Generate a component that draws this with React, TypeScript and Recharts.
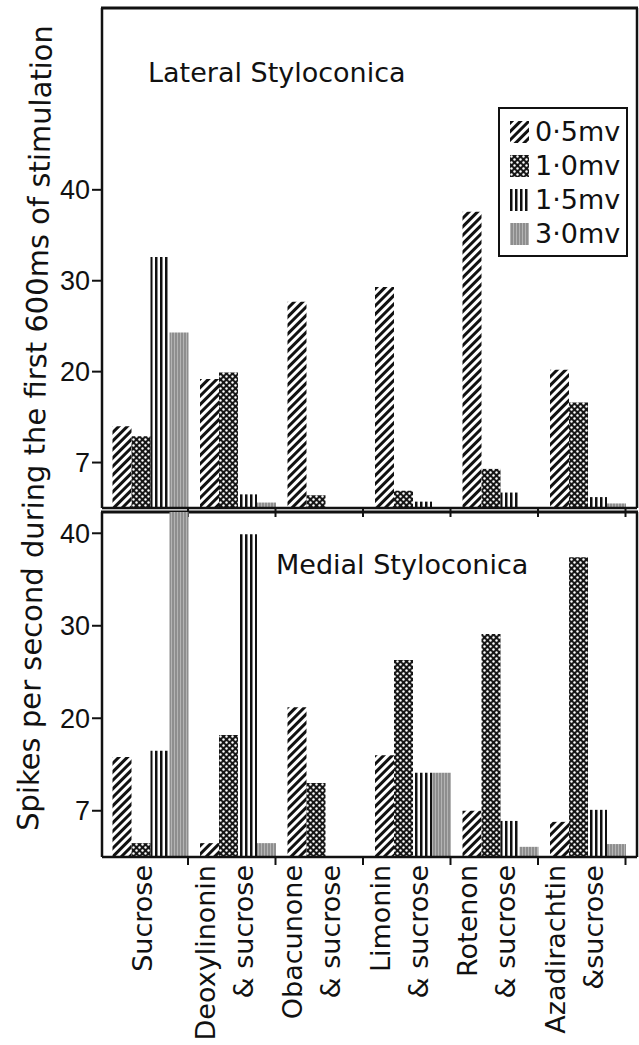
import React from 'react';
import { BarChart, Bar, XAxis, YAxis, Legend, Customized } from 'recharts';

// ---------- data ----------
const CATEGORIES = [
  'Sucrose',
  'Deoxylinonin & sucrose',
  'Obacunone & sucrose',
  'Limonin & sucrose',
  'Rotenon & sucrose',
  'Azadirachtin &sucrose',
];
const LABEL_LINE1 = ['Sucrose', 'Deoxylinonin', 'Obacunone', 'Limonin', 'Rotenon', 'Azadirachtin'];
const LABEL_LINE2 = ['', '& sucrose', '& sucrose', '& sucrose', '& sucrose', '&sucrose'];
const SERIES = ['0·5mv', '1·0mv', '1·5mv', '3·0mv'];

const LATERAL_05 = [14.0, 19.2, 27.7, 29.3, 37.6, 20.2];
const LATERAL_10 = [12.9, 19.9, 6.4, 6.9, 9.3, 16.6];
const LATERAL_15 = [32.6, 6.5, null, 5.7, 6.7, 6.2];
const LATERAL_30 = [24.3, 5.6, null, null, null, 5.5];

const MEDIAL_05 = [15.8, 6.5, 21.2, 16.0, 10.0, 8.8];
const MEDIAL_10 = [6.5, 18.2, 13.0, 26.3, 29.1, 37.4];
const MEDIAL_15 = [16.5, 39.9, null, 14.1, 8.9, 10.1];
const MEDIAL_30 = [42.3, 6.5, null, 14.1, 6.1, 6.4];

const LATERAL_DOMAIN = [5, 60];
const MEDIAL_DOMAIN = [5, 42.3];
const Y_TICKS = [10, 20, 30, 40];
const Y_TICK_LABELS = ['7', '20', '30', '40'];

const TITLE_TOP = 'Lateral Styloconica';
const TITLE_BOTTOM = 'Medial Styloconica';
const Y_TITLE = 'Spikes per second during the first 600ms of stimulation';

const build = (a: any[], b: any[], c: any[], d: any[]) =>
  CATEGORIES.map((name, i) => ({ name, s05: a[i], s10: b[i], s15: c[i], s30: d[i] }));

const lateralData = build(LATERAL_05, LATERAL_10, LATERAL_15, LATERAL_30);
const medialData = build(MEDIAL_05, MEDIAL_10, MEDIAL_15, MEDIAL_30);

// ---------- layout / style ----------
const FONT = '"DejaVu Sans", sans-serif';
const INK = '#111';
const W = 639;
const H = 1045;
const PLOT_LEFT = 102;
const PLOT_RIGHT = 637;
const TOP_PLOT_TOP = 8;
const TOP_PLOT_BOTTOM = 508;
const BOT_PLOT_TOP = 512;
const PAD_L = 4.5;
const PAD_R = 5.5;
const BAND = (PLOT_RIGHT - PLOT_LEFT - PAD_L - PAD_R) / CATEGORIES.length;
const TICK_SHIFT = 6;
const AX = { stroke: INK, strokeWidth: 2.5 };

const patterns = (p: string) => (
  <defs>
    <pattern id={`${p}hatch`} patternUnits="userSpaceOnUse" width={6} height={6} patternTransform="rotate(45)">
      <rect width={6} height={6} fill="#fff" />
      <rect x={0} y={0} width={3} height={6} fill={INK} />
    </pattern>
    <pattern id={`${p}dots`} patternUnits="userSpaceOnUse" width={6} height={6}>
      <rect width={6} height={6} fill="#161616" />
      <circle cx={1.5} cy={1.5} r={1.2} fill="#fff" />
      <circle cx={4.5} cy={4.5} r={1.2} fill="#fff" />
    </pattern>
    <pattern id={`${p}vlines`} patternUnits="userSpaceOnUse" width={5} height={10}>
      <rect width={5} height={10} fill="#fff" />
      <rect width={2.5} height={10} fill={INK} />
    </pattern>
    <pattern id={`${p}gray`} patternUnits="userSpaceOnUse" width={3} height={10}>
      <rect width={3} height={10} fill="#8e8e8e" />
      <rect width={1} height={10} fill="#b4b4b4" />
    </pattern>
  </defs>
);

const BoundaryTick = (props: any) => {
  const { x, y } = props;
  const tx = x + BAND / 2 - TICK_SHIFT;
  return <line x1={tx} x2={tx} y1={y} y2={y + 9} stroke={INK} strokeWidth={2} />;
};

const LabelTick = (props: any) => {
  const { x, y, index } = props;
  const tx = x + BAND / 2 - TICK_SHIFT;
  const l1 = LABEL_LINE1[index];
  const l2 = LABEL_LINE2[index];
  const ty = y + 8;
  const common = { textAnchor: 'end' as const, fontFamily: FONT, fontSize: 27, fill: INK };
  return (
    <g>
      <line x1={tx} x2={tx} y1={y} y2={y + 8} stroke={INK} strokeWidth={2} />
      {l2 ? (
        <>
          <text {...common} transform={`translate(${x - 23},${ty}) rotate(-90)`}>{l1}</text>
          <text {...common} transform={`translate(${x + 15},${ty}) rotate(-90)`}>{l2}</text>
        </>
      ) : (
        <text {...common} transform={`translate(${x + 2},${ty}) rotate(-90)`}>{l1}</text>
      )}
    </g>
  );
};

const LegendBox = (props: any) => {
  const payload = props.payload || [];
  return (
    <div
      style={{
        boxSizing: 'border-box',
        width: 130,
        height: 150,
        border: `2px solid ${INK}`,
        background: '#fff',
        padding: '6px 0 0 10px',
        fontFamily: FONT,
      }}
    >
      {payload.map((e: any) => (
        <div key={e.value} style={{ display: 'flex', alignItems: 'center', height: 34 }}>
          <svg width={19} height={22} style={{ marginRight: 6, display: 'block' }}>
            <rect width={19} height={22} fill={e.color} />
          </svg>
          <span style={{ fontSize: 27, color: INK, lineHeight: '34px', whiteSpace: 'nowrap' }}>{e.value}</span>
        </div>
      ))}
    </div>
  );
};

const TopTexts = () => (
  <g>
    <rect x={PLOT_LEFT - 1} y={TOP_PLOT_TOP - 1.5} width={PLOT_RIGHT - PLOT_LEFT + 2} height={3} fill={INK} />
    <text x={148} y={82} fontFamily={FONT} fontSize={27} fill={INK}>{TITLE_TOP}</text>
    <text
      transform="translate(35,428) rotate(-89)"
      textAnchor="middle"
      dominantBaseline="central"
      fontFamily={FONT}
      fontSize={29}
      fill={INK}
    >
      {Y_TITLE}
    </text>
  </g>
);

const BottomTexts = () => (
  <g>
    <rect x={PLOT_LEFT - 1} y={BOT_PLOT_TOP - 1.5} width={PLOT_RIGHT - PLOT_LEFT + 2} height={3} fill={INK} />
    <text x={276} y={574} fontFamily={FONT} fontSize={27} fill={INK}>{TITLE_BOTTOM}</text>
  </g>
);

const yTickProps = { fill: INK, fontSize: 27, fontFamily: '"Liberation Sans", sans-serif' };
const yFmt = (v: number) => Y_TICK_LABELS[Y_TICKS.indexOf(v)] ?? String(v);

const bars = (p: string) => [
  <Bar key="a" dataKey="s05" name={SERIES[0]} fill={`url(#${p}hatch)`} isAnimationActive={false} />,
  <Bar key="b" dataKey="s10" name={SERIES[1]} fill={`url(#${p}dots)`} isAnimationActive={false} />,
  <Bar key="c" dataKey="s15" name={SERIES[2]} fill={`url(#${p}vlines)`} isAnimationActive={false} />,
  <Bar key="d" dataKey="s30" name={SERIES[3]} fill={`url(#${p}gray)`} isAnimationActive={false} />,
];

const rightFrame = () => (
  <YAxis
    yAxisId="right"
    type="number"
    domain={[0, 1]}
    orientation="right"
    width={1}
    tick={false}
    tickLine={false}
    axisLine={AX}
  />
);

export default function App() {
  return (
    <div style={{ position: 'absolute', left: 0, top: 0, width: W, height: H, background: '#fff' }}>
      <div style={{ position: 'absolute', left: 0, top: 0 }}>
        <BarChart
          width={W}
          height={H}
          data={lateralData}
          margin={{ top: TOP_PLOT_TOP, right: W - PLOT_RIGHT - 1, left: 8, bottom: H - TOP_PLOT_BOTTOM - 10 }}
          barCategoryGap={6}
          barGap={0}
        >
          {patterns('L')}
          <XAxis
            dataKey="name"
            height={10}
            padding={{ left: PAD_L, right: PAD_R }}
            interval={0}
            tickLine={false}
            tickSize={0}
            tickMargin={0}
            axisLine={AX}
            tick={<BoundaryTick />}
          />
          <YAxis
            type="number"
            domain={LATERAL_DOMAIN}
            allowDataOverflow
            ticks={Y_TICKS}
            interval={0}
            width={94}
            tickSize={10}
            tickMargin={2}
            tickLine={{ stroke: INK, strokeWidth: 2 }}
            axisLine={AX}
            tick={yTickProps}
            tickFormatter={yFmt}
          />
          {rightFrame()}
          {bars('L')}
          <Legend
            layout="vertical"
            align="center"
            verticalAlign="middle"
            wrapperStyle={{ position: 'absolute', left: 498, top: 107, width: 130, height: 150, margin: 0 }}
            content={<LegendBox />}
          />
          <Customized component={TopTexts} />
        </BarChart>
      </div>
      <div style={{ position: 'absolute', left: 0, top: 0 }}>
        <BarChart
          width={W}
          height={H}
          data={medialData}
          margin={{ top: BOT_PLOT_TOP, right: W - PLOT_RIGHT - 1, left: 8, bottom: 0 }}
          barCategoryGap={6}
          barGap={0}
        >
          {patterns('M')}
          <XAxis
            dataKey="name"
            height={188}
            padding={{ left: PAD_L, right: PAD_R }}
            interval={0}
            tickLine={false}
            tickSize={0}
            tickMargin={0}
            axisLine={AX}
            tick={<LabelTick />}
          />
          <YAxis
            type="number"
            domain={MEDIAL_DOMAIN}
            allowDataOverflow
            ticks={Y_TICKS}
            interval={0}
            width={94}
            tickSize={10}
            tickMargin={2}
            tickLine={{ stroke: INK, strokeWidth: 2 }}
            axisLine={AX}
            tick={yTickProps}
            tickFormatter={yFmt}
          />
          {rightFrame()}
          {bars('M')}
          <Customized component={BottomTexts} />
        </BarChart>
      </div>
    </div>
  );
}
